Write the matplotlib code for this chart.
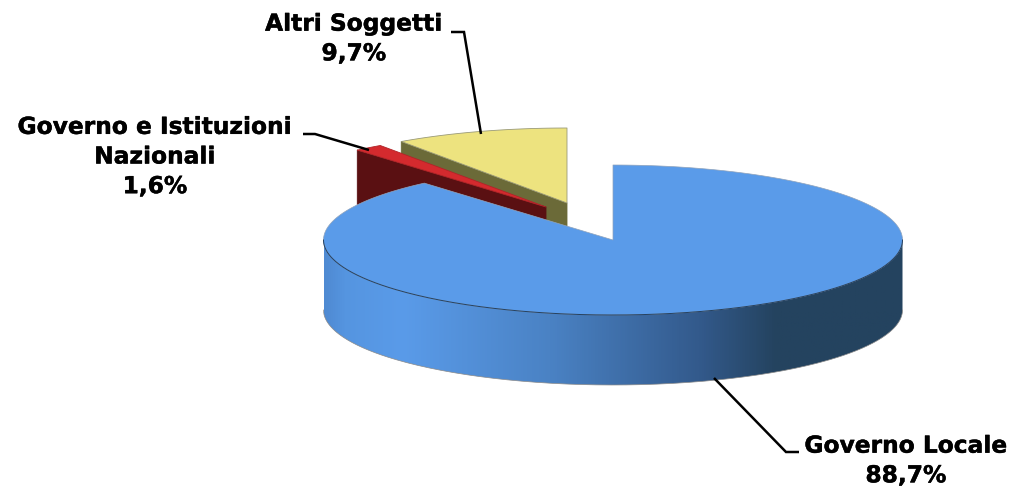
import numpy as np
import matplotlib
matplotlib.use("Agg")
import matplotlib.pyplot as plt
import matplotlib.patheffects as pe
from matplotlib.colors import LinearSegmentedColormap
from matplotlib.patches import PathPatch
from matplotlib.path import Path

# Data
categories = ["Governo Locale", "Governo e Istituzioni\nNazionali", "Altri Soggetti"]
shares = [88.7, 1.6, 9.7]

# Styles
top_colors = ["#5A9BE9", "#D42A2E", "#EDE37F"]
cut_colors = ["#24435F", "#5A1012", "#6B6A38"]
apexes = [(613, 240), (546, 207), (567, 203)]
RX, RY, DEPTH = 289.5, 75, 70

fig = plt.figure(figsize=(10.16, 4.91), dpi=100)
ax = fig.add_axes([0, 0, 1, 1])
ax.set_xlim(0, 1016)
ax.set_ylim(491, 0)
ax.axis("off")


def rim(apex, a0, a1, n=240):
    t = np.radians(np.linspace(a0, a1, n))
    return apex[0] + RX * np.sin(t), apex[1] - RY * np.cos(t)


# Angles follow from the shares, clockwise from 12 o'clock
edges = np.concatenate([[0], np.cumsum(shares)]) / sum(shares) * 360
EDGE = dict(linewidth=0.6, joinstyle="round")

# Draw back to front: yellow, red, blue
for i in [2, 1]:
    a0, a1 = edges[i], edges[i + 1]
    ap = apexes[i]
    ox, oy = rim(ap, a0, a0, 1)
    ax.fill([ap[0], ox[0], ox[0], ap[0]],
            [ap[1], oy[0], oy[0] + DEPTH, ap[1] + DEPTH],
            color=cut_colors[i], zorder=2 + (i == 1) * 2, **EDGE)
    x, y = rim(ap, a0, a1, 60)
    ax.fill(np.r_[ap[0], x], np.r_[ap[1], y], facecolor=top_colors[i],
            edgecolor="#9a9a78" if i == 2 else "#B02428",
            zorder=3 + (i == 1) * 2, **EDGE)

# Blue wedge side, horizontal gradient clipped to the rim band
ap = apexes[0]
rx, ry = rim(ap, 90, 270)
verts = np.r_[np.c_[rx, ry], np.c_[rx[::-1], ry[::-1] + DEPTH], [[rx[0], ry[0]]]]
band = PathPatch(Path(verts), facecolor="none", edgecolor="none", transform=ax.transData)
ax.add_patch(band)
x0, x1 = ap[0] - RX, ap[0] + RX
stops = [(325, "#4F8AD2"), (345, "#5595E0"), (403, "#5A9BE9"), (551, "#4A82C4"),
         (699, "#335A8C"), (777, "#24435F"), (903, "#24435F")]
cmap = LinearSegmentedColormap.from_list(
    "rim", [((p - 325) / 578, c) for p, c in stops])
im = ax.imshow(np.linspace(0, 1, 512)[None, :], cmap=cmap, aspect="auto",
               extent=[x0, x1, ap[1] + RY + DEPTH, ap[1]], zorder=6)
im.set_clip_path(band)
ax.set_xlim(0, 1016)
ax.set_ylim(491, 0)
ax.plot(rx, ry + DEPTH, color="#8a8a8a", lw=0.5, zorder=6.5)
ax.plot(rx, ry, color="#24405f", lw=0.7, zorder=7.5)

# Blue top face
x, y = rim(ap, edges[0], edges[1])
ax.fill(np.r_[ap[0], x], np.r_[ap[1], y], facecolor=top_colors[0],
        edgecolor="#8FA3BC", zorder=7, linewidth=0.5, joinstyle="round")

# Labels and leader lines
labels = [f"{c}\n{str(v).replace('.', ',')}%" for c, v in zip(categories, shares)]
label_pos = [(906, 461), (155, 157), (354, 39)]
leaders = [[(714, 378), (786, 452), (799, 452)],
           [(303, 134), (315, 134), (369, 150)],
           [(451, 32), (464, 32), (481, 134)]]
for lab, pos, ln in zip(labels, label_pos, leaders):
    ax.text(pos[0], pos[1], lab, ha="center", va="center", family="DejaVu Sans",
            fontweight="bold", fontsize=16.8, linespacing=1.37, color="black", zorder=10,
            path_effects=[pe.withStroke(linewidth=0.3, foreground="black")])
    lx, ly = zip(*ln)
    ax.plot(lx, ly, color="black", lw=1.8, zorder=9, solid_capstyle="butt",
            solid_joinstyle="miter")

fig.savefig("out.png", dpi=100)
